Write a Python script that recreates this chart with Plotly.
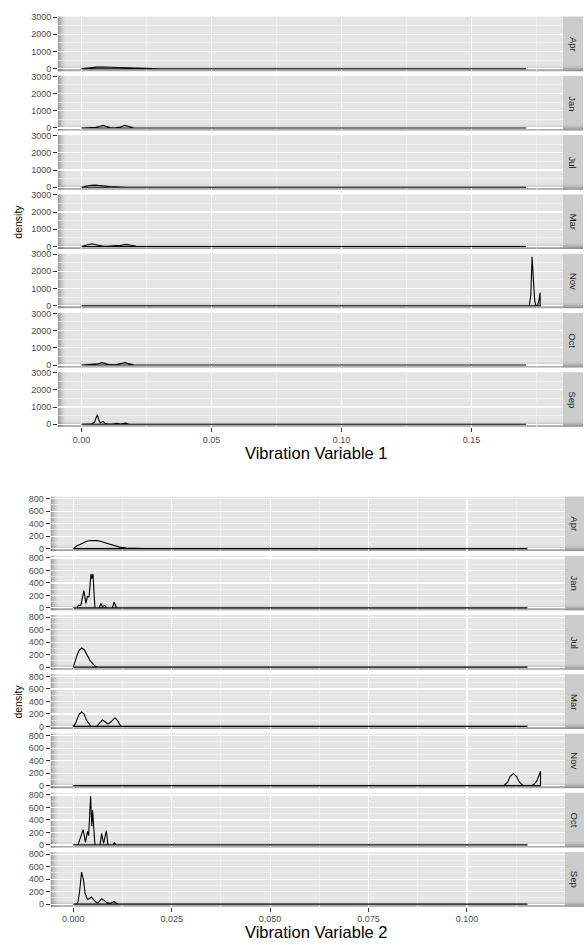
import plotly.graph_objects as go

W, H = 587, 945
FONT = "Liberation Sans, Arial, sans-serif"

MONTHS = ["Apr", "Jan", "Jul", "Mar", "Nov", "Oct", "Sep"]

# ---- Vibration Variable 1 : density curves (x, density) ----
V1_APR = [(0, 0), (0.002, 40), (0.004, 75), (0.006, 95), (0.008, 100), (0.010, 90), (0.012, 70),
          (0.015, 40), (0.018, 20), (0.022, 8), (0.026, 2), (0.030, 0), (0.171, 0)]
V1_JAN = [(0, 0), (0.002, 10), (0.004, 40), (0.0055, 45), (0.007, 90), (0.0083, 150), (0.0095, 90),
          (0.011, 20), (0.013, 10), (0.015, 60), (0.0167, 150), (0.018, 90), (0.020, 15), (0.022, 0), (0.171, 0)]
V1_JUL = [(0, 0), (0.001, 40), (0.003, 100), (0.005, 125), (0.007, 110), (0.009, 70), (0.011, 35),
          (0.013, 12), (0.015, 3), (0.017, 0), (0.171, 0)]
V1_MAR = [(0, 0), (0.002, 80), (0.004, 160), (0.006, 90), (0.008, 20), (0.010, 15), (0.012, 60),
          (0.0135, 55), (0.015, 60), (0.0172, 120), (0.019, 70), (0.021, 10), (0.023, 0), (0.171, 0)]
V1_NOV = [(0, 0), (0.1722, 0), (0.1728, 600), (0.1733, 2850), (0.1738, 1500), (0.1743, 300),
          (0.1748, 0), (0.1754, 0), (0.1759, 300), (0.1764, 760)]
V1_OCT = [(0, 0), (0.002, 10), (0.0035, 35), (0.005, 30), (0.0065, 70), (0.0078, 135), (0.009, 80),
          (0.011, 20), (0.013, 15), (0.015, 70), (0.0167, 135), (0.018, 80), (0.020, 10), (0.022, 0), (0.171, 0)]
V1_SEP = [(0, 0), (0.003, 0), (0.004, 30), (0.005, 120), (0.0055, 350), (0.0061, 560), (0.0067, 250),
          (0.0072, 80), (0.0078, 130), (0.0083, 170), (0.009, 60), (0.010, 10), (0.012, 15), (0.0135, 60),
          (0.015, 10), (0.016, 20), (0.017, 70), (0.018, 20), (0.019, 0), (0.171, 0)]

# ---- Vibration Variable 2 ----
V2_APR = [(0, 0), (0.0005, 30), (0.001, 50), (0.0017, 67), (0.0025, 95), (0.0034, 118), (0.0043, 130),
          (0.0051, 133), (0.006, 128), (0.0068, 118), (0.0077, 100), (0.0085, 82), (0.0094, 62),
          (0.0102, 46), (0.011, 32), (0.012, 20), (0.0135, 8), (0.015, 3), (0.018, 1), (0.021, 0), (0.1154, 0)]
V2_JAN = [(0, 0), (0.001, 0), (0.0013, 40), (0.0019, 40), (0.0027, 277), (0.0032, 72), (0.0036, 185),
          (0.004, 175), (0.0045, 544), (0.0047, 470), (0.005, 544), (0.0055, 0), (0.0066, 0),
          (0.007, 72), (0.0074, 20), (0.008, 40), (0.0084, 5), (0.0088, 0), (0.0099, 0),
          (0.0104, 92), (0.011, 0), (0.1154, 0)]
V2_JUL = [(0, 0), (0.0005, 110), (0.001, 200), (0.0015, 270), (0.0021, 308), (0.0028, 280),
          (0.0035, 200), (0.0042, 113), (0.005, 50), (0.0056, 15), (0.0062, 3), (0.007, 0), (0.1154, 0)]
V2_MAR = [(0, 0), (0.0005, 40), (0.001, 120), (0.0015, 195), (0.0021, 231), (0.0027, 200),
          (0.0033, 110), (0.004, 30), (0.0044, 5), (0.0048, 0), (0.0059, 0), (0.0065, 40), (0.0074, 103),
          (0.0081, 75), (0.0088, 36), (0.0095, 70), (0.0106, 139), (0.0113, 90), (0.0118, 30),
          (0.0123, 0), (0.1154, 0)]
V2_NOV = [(0, 0), (0.1094, 0), (0.1103, 50), (0.111, 150), (0.1118, 195), (0.1126, 150),
          (0.1133, 60), (0.1143, 0), (0.1165, 0), (0.1172, 30), (0.1178, 80), (0.1183, 150), (0.1187, 230)]
V2_OCT = [(0, 0), (0.0012, 0), (0.0013, 20), (0.0025, 246), (0.0031, 40), (0.0036, 215),
          (0.0039, 150), (0.0044, 780), (0.0047, 300), (0.0049, 554), (0.0055, 0), (0.0068, 0),
          (0.0072, 180), (0.0077, 25), (0.0084, 230), (0.0088, 0), (0.0101, 0), (0.0104, 40),
          (0.0108, 0), (0.1154, 0)]
V2_SEP = [(0, 0), (0.0008, 0), (0.0012, 40), (0.0016, 200), (0.0021, 513), (0.0026, 380),
          (0.003, 170), (0.0036, 75), (0.0041, 90), (0.0046, 115), (0.0052, 70), (0.0058, 30),
          (0.0063, 20), (0.0068, 60), (0.0072, 87), (0.0078, 60), (0.0085, 25), (0.0092, 12),
          (0.0098, 20), (0.0104, 40), (0.011, 15), (0.0115, 0), (0.1154, 0)]

V1_CURVES = [V1_APR, V1_JAN, V1_JUL, V1_MAR, V1_NOV, V1_OCT, V1_SEP]
V2_CURVES = [V2_APR, V2_JAN, V2_JUL, V2_MAR, V2_NOV, V2_OCT, V2_SEP]

V1_XTICKS = [0.0, 0.05, 0.10, 0.15]
V1_XTICKTEXT = ["0.00", "0.05", "0.10", "0.15"]
V1_XMINOR = [0.025, 0.075, 0.125, 0.175]
V1_YTICKS = [0, 1000, 2000, 3000]
V1_YMINOR = [500, 1500, 2500]

V2_XTICKS = [0.0, 0.025, 0.05, 0.075, 0.10]
V2_XTICKTEXT = ["0.000", "0.025", "0.050", "0.075", "0.100"]
V2_XMINOR = [0.0125, 0.0375, 0.0625, 0.0875, 0.1125]
V2_YTICKS = [0, 200, 400, 600, 800]
V2_YMINOR = [100, 300, 500, 700]

fig = go.Figure()
layout = dict(width=W, height=H, autosize=False, margin=dict(l=0, r=0, t=0, b=0, pad=0),
              paper_bgcolor="white", plot_bgcolor="#E5E5E5", showlegend=False)
shapes = []
annotations = []

LEFT_A = [0.32, 0.26, 0.20, 0.15, 0.10, 0.065, 0.04, 0.02]
BOT_A = [0.30, 0.22, 0.15, 0.09, 0.05, 0.02]
TICKFONT = dict(family=FONT, size=9, color="#4D4D4D")


def add_group(start, curves, xr, yr, xt, xtt, xm, yt, ym, L, R, T0, pitch, ph, SW, title, title_y):
    for i, (mon, pts) in enumerate(zip(MONTHS, curves)):
        n = start + i + 1
        xn = "x" if n == 1 else f"x{n}"
        yn = "y" if n == 1 else f"y{n}"
        xk = "xaxis" if n == 1 else f"xaxis{n}"
        yk = "yaxis" if n == 1 else f"yaxis{n}"
        T = T0 + pitch * i
        B = T + ph
        last = i == len(curves) - 1
        xs = [p[0] for p in pts] + [pts[-1][0], pts[0][0]]
        ys = [p[1] for p in pts] + [0, 0]
        fig.add_trace(go.Scatter(x=xs, y=ys, mode="lines", line=dict(color="black", width=1.1),
                                 xaxis=xn, yaxis=yn, hoverinfo="skip", showlegend=False))
        layout[xk] = dict(domain=[L / W, R / W], range=xr, anchor=yn,
                          tickmode="array", tickvals=xt, ticktext=xtt,
                          showticklabels=last, ticks="outside" if last else "",
                          ticklen=4, tickwidth=1, tickcolor="#333333", tickfont=TICKFONT,
                          showgrid=True, gridcolor="white", gridwidth=1.2, zeroline=False,
                          showline=False, fixedrange=True,
                          minor=dict(tickmode="array", tickvals=xm, showgrid=True,
                                     gridcolor="#F3F3F3", gridwidth=0.6, ticks=""))
        layout[yk] = dict(domain=[1 - B / H, 1 - T / H], range=yr, anchor=xn,
                          tickmode="array", tickvals=yt, ticks="outside", ticklen=4,
                          tickwidth=1, tickcolor="#333333", tickfont=TICKFONT,
                          showgrid=True, gridcolor="white", gridwidth=1.2, zeroline=False,
                          showline=False, fixedrange=True,
                          minor=dict(tickmode="array", tickvals=ym, showgrid=True,
                                     gridcolor="#F3F3F3", gridwidth=0.6, ticks=""))
        pw = R - L
        for k, a in enumerate(LEFT_A):
            shapes.append(dict(type="rect", xref=f"{xn} domain", yref=f"{yn} domain",
                               x0=k / pw, x1=(k + 1) / pw, y0=0, y1=1, layer="below",
                               fillcolor=f"rgba(0,0,0,{a})", line=dict(width=0)))
        for k, a in enumerate(BOT_A):
            shapes.append(dict(type="rect", xref=f"{xn} domain", yref=f"{yn} domain",
                               x0=0, x1=1, y0=k / ph, y1=(k + 1) / ph, layer="below",
                               fillcolor=f"rgba(0,0,0,{a})", line=dict(width=0)))
        # strip
        shapes.append(dict(type="rect", xref="paper", yref="paper", x0=R / W, x1=(R + SW) / W,
                           y0=1 - B / H, y1=1 - T / H, fillcolor="#CCCCCC", line=dict(width=0),
                           layer="above"))
        for k, a in enumerate(BOT_A):
            shapes.append(dict(type="rect", xref="paper", yref="paper", x0=R / W, x1=(R + SW) / W,
                               y0=1 - (B - k) / H, y1=1 - (B - k - 1) / H, layer="above",
                               fillcolor=f"rgba(0,0,0,{a})", line=dict(width=0)))
        annotations.append(dict(text=mon, xref="paper", yref="paper", x=(R + SW / 2) / W,
                                y=1 - (T + ph / 2) / H, showarrow=False, textangle=90,
                                font=dict(family=FONT, size=9.5, color="#1A1A1A"),
                                xanchor="center", yanchor="middle"))
    annotations.append(dict(text=title, xref="paper", yref="paper", x=316 / W, y=1 - title_y / H,
                            showarrow=False, xanchor="center", yanchor="middle",
                            font=dict(family=FONT, size=16.5, color="black")))
    mid = T0 + (pitch * (len(curves) - 1) + ph) / 2
    annotations.append(dict(text="density", xref="paper", yref="paper", x=18 / W, y=1 - mid / H,
                            showarrow=False, textangle=-90, xanchor="center", yanchor="middle",
                            font=dict(family=FONT, size=10.5, color="black")))


add_group(0, V1_CURVES, [-0.00904, 0.18519], [-144, 3029], V1_XTICKS, V1_XTICKTEXT, V1_XMINOR,
          V1_YTICKS, V1_YMINOR, 58, 563, 12.7, 59.7, 55, 20, "Vibration Variable 1", 452)
add_group(7, V2_CURVES, [-0.00574, 0.12492], [-40, 835], V2_XTICKS, V2_XTICKTEXT, V2_XMINOR,
          V2_YTICKS, V2_YMINOR, 50.7, 565, 496.2, 59.7, 55, 19, "Vibration Variable 2", 935)

layout["shapes"] = shapes
layout["annotations"] = annotations
fig.update_layout(**layout)
fig.write_html("out.html", config={"displayModeBar": False, "staticPlot": True},
               post_script="document.body.style.margin='0px';document.body.style.overflow='hidden';")
